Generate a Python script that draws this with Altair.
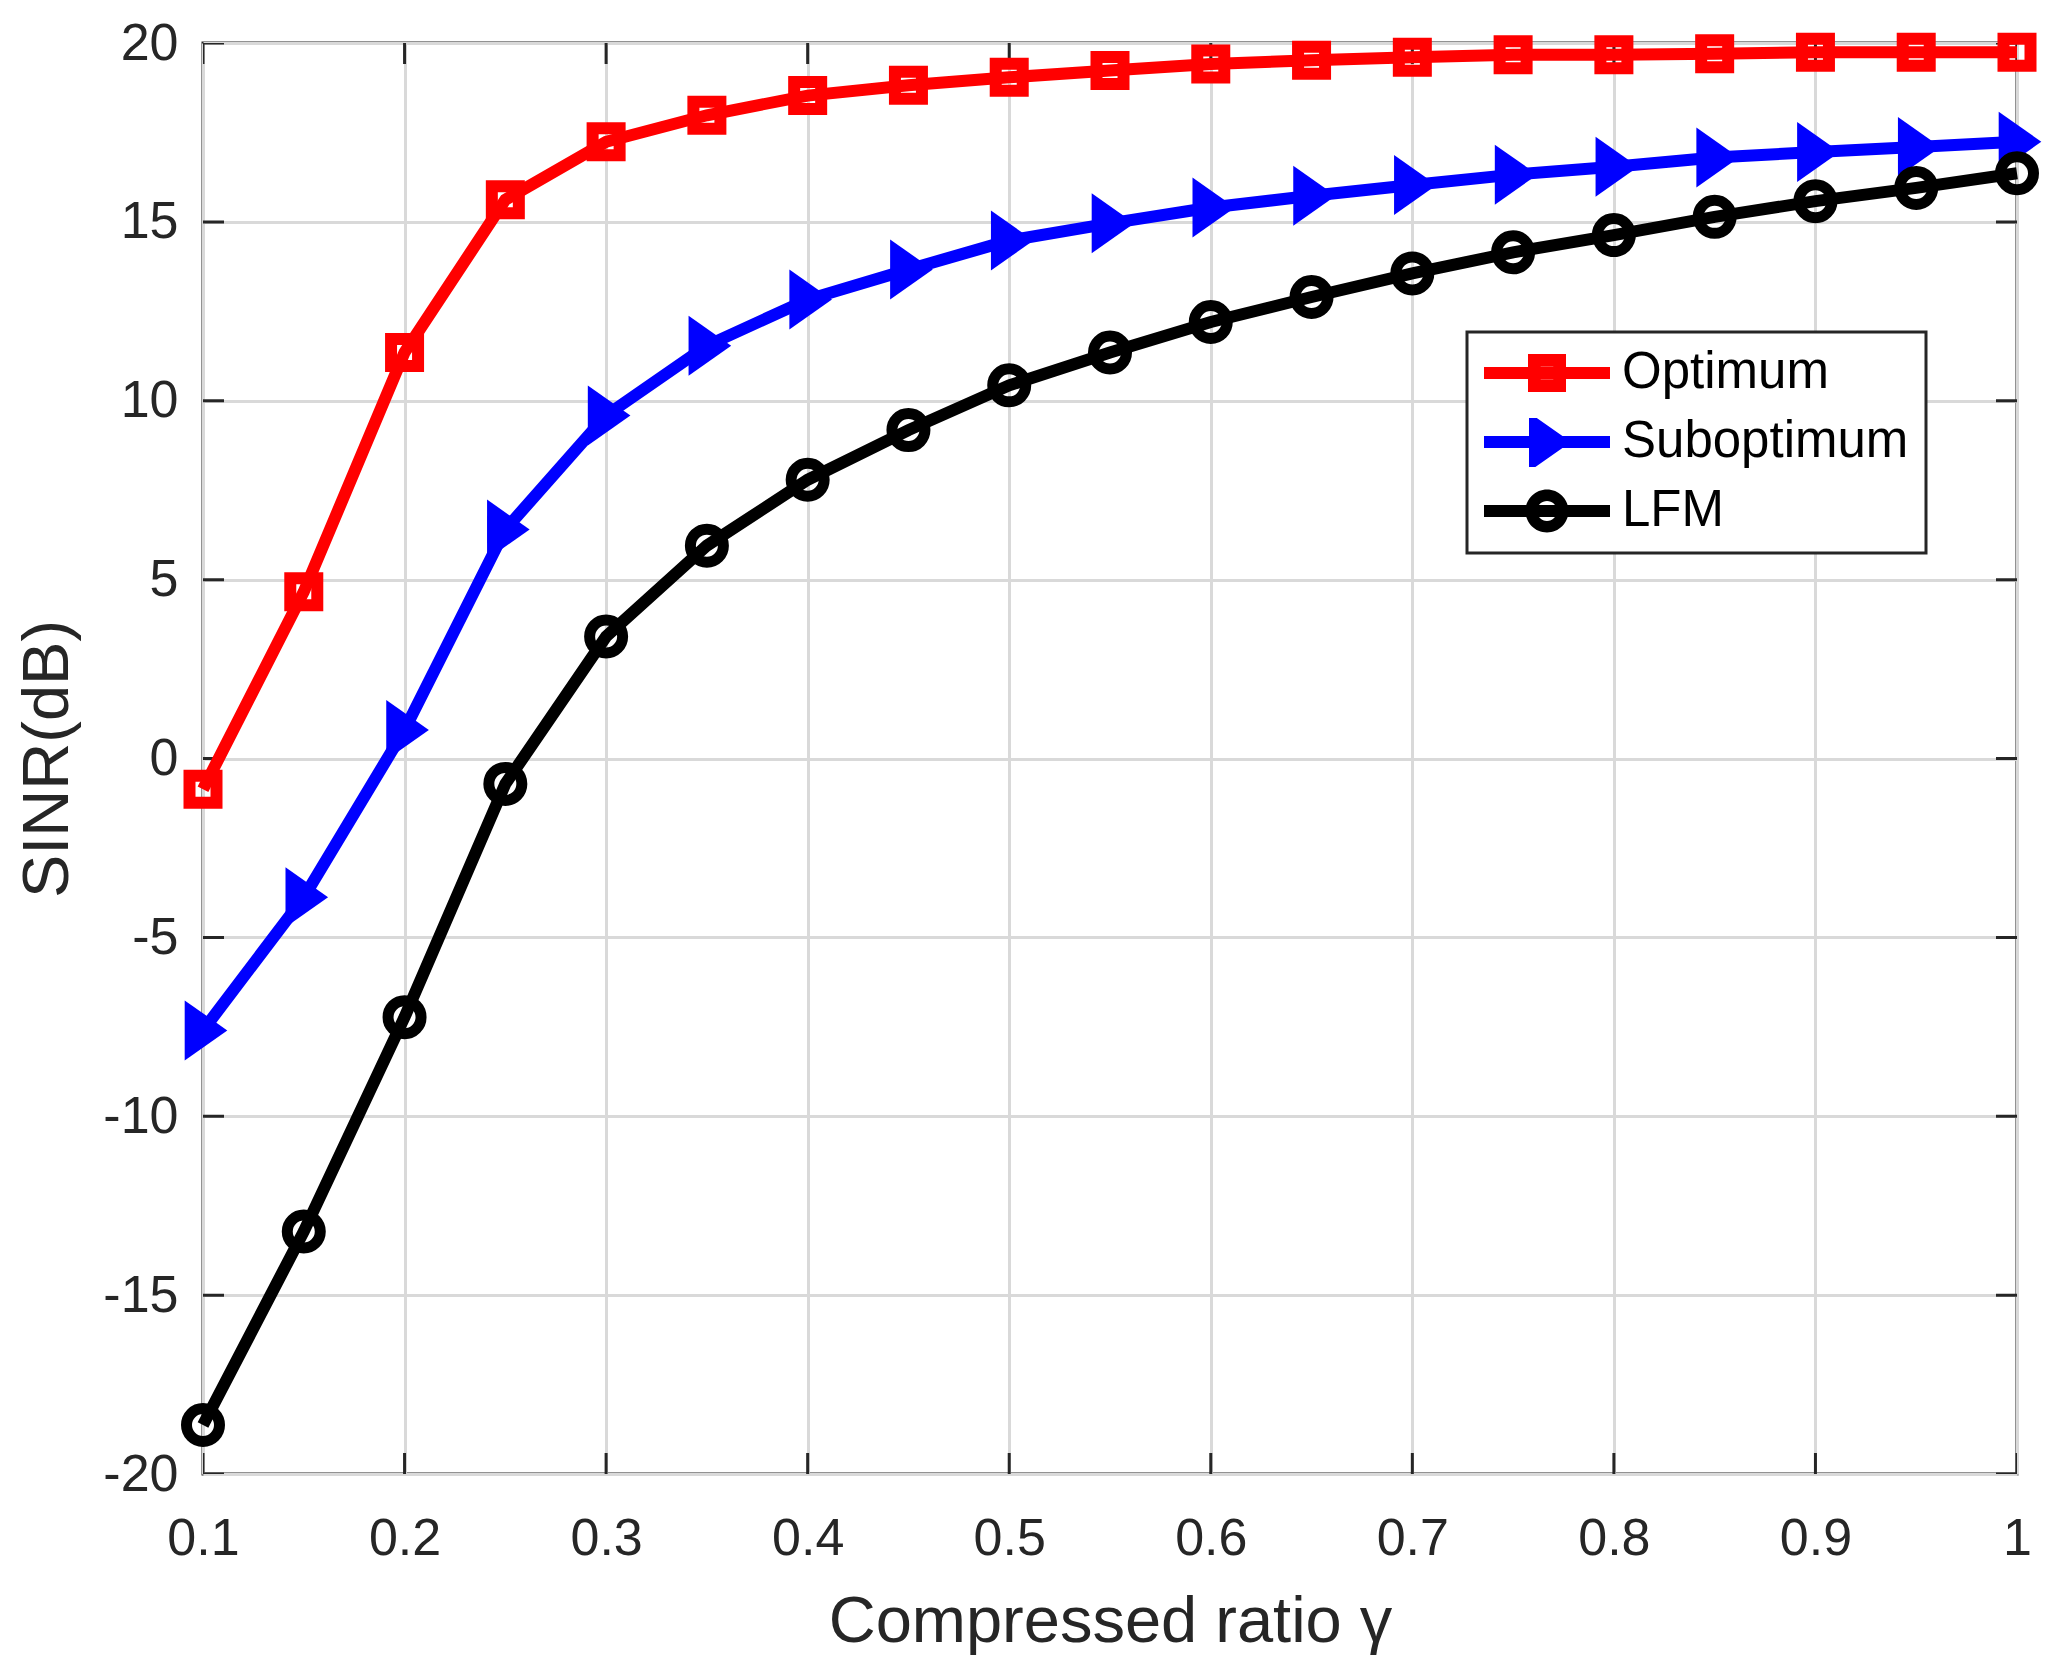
import altair as alt
import pandas as pd

# ---- data ----
gamma = [0.1, 0.15, 0.2, 0.25, 0.3, 0.35, 0.4, 0.45, 0.5, 0.55,
         0.6, 0.65, 0.7, 0.75, 0.8, 0.85, 0.9, 0.95, 1.0]
optimum = [-0.86, 4.66, 11.35, 15.62, 17.24, 17.98, 18.53, 18.82, 19.04, 19.23,
           19.41, 19.52, 19.60, 19.67, 19.67, 19.70, 19.74, 19.74, 19.74]
suboptimum = [-7.6, -3.88, 0.8, 6.4, 9.59, 11.54, 12.83, 13.67, 14.48, 14.96,
              15.40, 15.73, 16.03, 16.32, 16.54, 16.80, 16.95, 17.09, 17.24]
lfm = [-18.63, -13.22, -7.23, -0.71, 3.41, 5.95, 7.79, 9.18, 10.43, 11.35,
       12.20, 12.90, 13.56, 14.15, 14.63, 15.14, 15.58, 15.95, 16.36]

series_names = ["Optimum", "Suboptimum", "LFM"]
series_colors = ["#ff0000", "#0000ff", "#000000"]
x_ticks = [0.1, 0.2, 0.3, 0.4, 0.5, 0.6, 0.7, 0.8, 0.9, 1.0]
y_ticks = [-20, -15, -10, -5, 0, 5, 10, 15, 20]

rows = []
for name, vals in zip(series_names, [optimum, suboptimum, lfm]):
    for g, v in zip(gamma, vals):
        rows.append({"gamma": g, "sinr": v, "series": name})
df = pd.DataFrame(rows)

xt_bottom = pd.DataFrame({"gamma": x_ticks, "sinr": [y_ticks[0]] * len(x_ticks)})
xt_top = pd.DataFrame({"gamma": x_ticks, "sinr": [y_ticks[-1]] * len(x_ticks)})
yt_left = pd.DataFrame({"gamma": [x_ticks[0]] * len(y_ticks), "sinr": y_ticks})
yt_right = pd.DataFrame({"gamma": [x_ticks[-1]] * len(y_ticks), "sinr": y_ticks})

FONT = "Liberation Sans"
AX = "#262626"
GRID = "#d9d9d9"

x_scale = alt.Scale(domain=[0.1, 1.0], nice=False, zero=False)
y_scale = alt.Scale(domain=[-20, 20], nice=False, zero=False)

x_axis = alt.Axis(values=x_ticks, labelExpr="'' + datum.value", title="Compressed ratio γ",
                  grid=True, gridColor=GRID, gridWidth=3, ticks=False, tickSize=0,
                  domain=False, labelFontSize=52, titleFontSize=65, labelPadding=39,
                  titlePadding=26, labelColor=AX, titleColor=AX, labelFont=FONT,
                  titleFont=FONT, titleFontWeight="normal", labelFlush=False,
                  labelOverlap=False)
y_axis = alt.Axis(values=y_ticks, labelExpr="'' + datum.value", title="SINR(dB)",
                  grid=True, gridColor=GRID, gridWidth=3, ticks=False, tickSize=0,
                  domain=False, labelFontSize=52, titleFontSize=65, labelPadding=25,
                  titlePadding=21, labelColor=AX, titleColor=AX, labelFont=FONT,
                  titleFont=FONT, titleFontWeight="normal", labelFlush=False,
                  labelOverlap=False)


def xy(chart):
    return chart.encode(
        x=alt.X("gamma:Q", scale=x_scale, axis=x_axis),
        y=alt.Y("sinr:Q", scale=y_scale, axis=y_axis),
    )


layers = []
# inward ticks on all four sides (clipped to the plot area)
for tdf in (xt_bottom, xt_top):
    layers.append(xy(alt.Chart(tdf).mark_tick(orient="vertical", size=42, thickness=3,
                                              color=AX, opacity=1, clip=True)))
for tdf in (yt_left, yt_right):
    layers.append(xy(alt.Chart(tdf).mark_tick(orient="horizontal", size=42, thickness=3,
                                              color=AX, opacity=1, clip=True)))

marker_specs = {
    "Optimum": dict(shape="square", filled=False, size=729, strokeWidth=12),
    "Suboptimum": dict(shape="M-0.61,-1L0.81,0L-0.61,1Z", filled=True, size=3600, strokeWidth=0),
    "LFM": dict(shape="circle", filled=False, size=1089, strokeWidth=11),
}

for name, col in zip(series_names, series_colors):
    sub = alt.Chart(df).transform_filter(alt.datum.series == name)
    layers.append(xy(sub.mark_line(color=col, strokeWidth=12)))
    layers.append(xy(sub.mark_point(color=col, opacity=1, **marker_specs[name])))

# legend symbols: line segment + marker, as filled paths
line_p = "M-1,-0.095H1V0.095H-1Z"
leg_square = line_p + " M-0.302,-0.302H0.302V0.302H-0.302Z M-0.1,-0.1V0.1H0.1V-0.1Z"
leg_tri = line_p + " M-0.286,-0.468L0.381,0L-0.286,0.468Z"
leg_circ = (line_p + " M0.341,0A0.341,0.341 0 1,1 -0.341,0A0.341,0.341 0 1,1 0.341,0Z"
            " M0.159,0A0.159,0.159 0 1,0 -0.159,0A0.159,0.159 0 1,0 0.159,0Z")

legend = alt.Legend(title=None, orient="none", legendX=1264, legendY=289,
                    direction="vertical", labelFontSize=51, labelColor="#000000",
                    labelFont=FONT, symbolSize=15876, symbolStrokeWidth=0,
                    symbolOffset=0, labelOffset=12, clipHeight=48, rowPadding=18,
                    padding=17, strokeColor=AX, fillColor="#ffffff", labelLimit=0)

legend_layer = alt.Chart(df).transform_filter("false").mark_point(
    filled=True, opacity=1, size=15876, strokeWidth=0
).encode(
    color=alt.Color("series:N", scale=alt.Scale(domain=series_names, range=series_colors),
                    legend=legend),
    shape=alt.Shape("series:N", scale=alt.Scale(domain=series_names,
                                                range=[leg_square, leg_tri, leg_circ]),
                    legend=legend),
)
layers.append(legend_layer)

chart = alt.layer(*layers).properties(
    width=1814, height=1431,
    autosize=alt.AutoSizeParams(type="none"),
    padding={"left": 195, "top": 35, "right": 40, "bottom": 195},
    background="#ffffff",
).configure(font=FONT).configure_view(
    stroke=AX, strokeWidth=3
).configure_legend(strokeWidth=3)

chart.save("out.html", embed_options={"renderer": "svg", "actions": False})
